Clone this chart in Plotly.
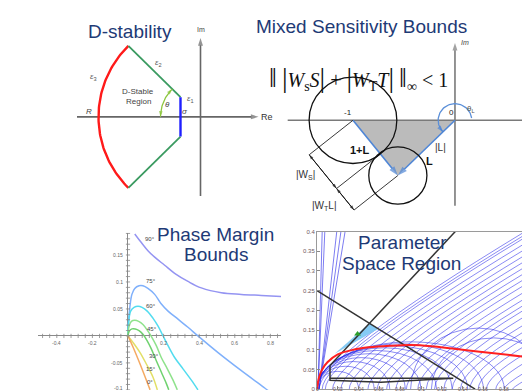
import numpy as np
import plotly.graph_objects as go

W, H = 530, 391
FONT = "Liberation Sans, Arial, sans-serif"
SERIF = "Liberation Serif, Times New Roman, serif"
NAVY = "#1e3a76"

# ---------------- Panel 1: D-stability region ----------------
d_sigma = 0.2          # vertical boundary  Re = -sigma
d_theta_deg = 45       # sector half angle
d_radius = 1.02        # outer radius R

# ---------------- Panel 2: mixed sensitivity ----------------
ms_L = (-0.56, -0.55)  # loop value L(jw)
ms_Ws = 0.43           # |W_S| radius around -1
ms_WtL = 0.285         # |W_T L| radius around L

# ---------------- Panel 3: phase margin bounds ----------------
pm_labels = ["90°", "75°", "60°", "45°", "30°", "15°", "0°"]
pm_label_x = [0.124, 0.129, 0.129, 0.135, 0.146, 0.129, 0.124]
pm_label_y = [0.179, 0.102, 0.055, 0.013, -0.038, -0.062, -0.086]
pm_colors = ["#9494f2", "#7fb0fb", "#52dcef", "#8fe28c", "#6fd26f", "#e2df66", "#f5aa62"]
pm90_x = [0.038, 0.075, 0.112, 0.150, 0.206, 0.262, 0.337, 0.412, 0.524, 0.637, 0.749, 0.861]
pm90_y = [0.189, 0.173, 0.158, 0.146, 0.131, 0.116, 0.101, 0.089, 0.080, 0.077, 0.075, 0.073]
pm75_x = [0.0, 0.004, 0.011, 0.022, 0.038, 0.062, 0.084, 0.112, 0.150, 0.185, 0.225, 0.281, 0.337, 0.393, 0.506, 0.635, 0.770, 0.798]
pm75_y = [0.0, 0.031, 0.055, 0.077, 0.088, 0.093, 0.093, 0.088, 0.077, 0.060, 0.046, 0.031, 0.016, 0.0, -0.031, -0.064, -0.097, -0.104]
pm60_x = [0.0, 0.004, 0.015, 0.034, 0.056, 0.079, 0.108, 0.140, 0.169, 0.197, 0.225, 0.262, 0.309, 0.356, 0.393]
pm60_y = [0.0, 0.027, 0.046, 0.053, 0.055, 0.053, 0.046, 0.033, 0.018, 0.0, -0.018, -0.040, -0.061, -0.082, -0.100]
pm45_x = [0.0, 0.006, 0.019, 0.038, 0.060, 0.084, 0.112, 0.135, 0.159, 0.187, 0.221, 0.253, 0.277]
pm45_y = [0.0, 0.018, 0.027, 0.029, 0.027, 0.021, 0.009, -0.003, -0.018, -0.040, -0.061, -0.082, -0.100]
pm30_x = [0.0, 0.007, 0.022, 0.041, 0.062, 0.084, 0.108, 0.131, 0.159, 0.187, 0.215, 0.229]
pm30_y = [0.0, 0.009, 0.013, 0.013, 0.010, 0.003, -0.009, -0.024, -0.046, -0.067, -0.088, -0.100]
pm15_x = [0.0, 0.028, 0.066, 0.103, 0.140, 0.165]
pm15_y = [0.0, -0.012, -0.030, -0.052, -0.076, -0.100]
pm0_x = [0.0, 0.03, 0.07, 0.124]
pm0_y = [0.0, -0.022, -0.054, -0.100]
pm_xtick_vals = [-0.4, -0.2, 0.2, 0.4, 0.6, 0.8]
pm_xtick_text = ["-0.4", "-0.2", "0.2", "0.4", "0.6", "0.8"]
pm_ytick_vals = [0.15, 0.1, 0.05, -0.05, -0.1]
pm_ytick_text = ["0.15", "0.1", "0.05", "-0.05", "-0.1"]

# ---------------- Panel 4: parameter space ----------------
ps_xtick_vals = [0, 0.02, 0.04, 0.06, 0.08, 0.1, 0.12, 0.14, 0.16, 0.18, 0.2]
ps_xtick_text = ["0", "0.02", "0.04", "0.06", "0.08", "0.1", "0.12", "0.14", "0.16", "0.18", "0.2"]
ps_ytick_vals = [0, 0.05, 0.1, 0.15, 0.2, 0.25, 0.3, 0.35, 0.4]
ps_ytick_text = ["0", "0.05", "0.1", "0.15", "0.2", "0.25", "0.3", "0.35", "0.4"]
# fan of boundary curves: start on the k_p axis, exit at the right edge (x = 0.2)
fan_start = [0.002, 0.005, 0.008, 0.015, 0.023, 0.031, 0.040, 0.049, 0.058,
             0.067, 0.076, 0.086, 0.097, 0.105, 0.113, 0.122, 0.130, 0.138, 0.147, 0.155,
             0.163, 0.172, 0.180, 0.188]
fan_exit = [0.40, 0.392, 0.385, 0.37, 0.355, 0.34, 0.325, 0.31, 0.295,
            0.28, 0.265, 0.2475, 0.23, 0.215, 0.2025, 0.185, 0.165, 0.1475, 0.13, 0.11,
            0.09, 0.0675, 0.0425, 0.0225]
# arcs (centre, half width, height)
arc_cx = [0.02, 0.0275, 0.035, 0.0425, 0.05, 0.0575, 0.065, 0.0725, 0.08, 0.09, 0.155, 0.17]
arc_w = [0.02, 0.0275, 0.035, 0.0425, 0.05, 0.0575, 0.065, 0.0725, 0.08, 0.09, 0.065, 0.06]
arc_h = [0.045, 0.058, 0.07, 0.08, 0.09, 0.098, 0.105, 0.11, 0.115, 0.12, 0.155, 0.13]
# nearly vertical lines close to the k_i axis
steep_x0 = [0.001, 0.001, 0.002, 0.002, 0.002]
steep_x1 = [0.005, 0.0075, 0.019, 0.023, 0.027]
# black constraint lines
blk1_x = [0.0, 0.152]; blk1_y = [0.25, 0.0]
blk2_x = [0.0125, 0.133]; blk2_y = [0.06, 0.4]
blk3_x = [0.0125, 0.0125, 0.0615, 0.131, 0.0125]
blk3_y = [0.06, 0.0225, 0.0175, 0.0275, 0.0275]
# red curve
red_x = [0.0, 0.002, 0.005, 0.01, 0.02, 0.035, 0.05, 0.07, 0.09, 0.11, 0.13, 0.15, 0.17, 0.2]
red_y = [0.0, 0.03, 0.05, 0.068, 0.088, 0.1, 0.106, 0.11, 0.112, 0.109, 0.103, 0.097, 0.091, 0.082]
# feasible region and chosen point
cyan_x = [0.017, 0.0504, 0.0587]
cyan_y = [0.09, 0.167, 0.1525]
pt_x = [0.039]; pt_y = [0.14]


def dx(a, b):
    return [a / W, b / W]


def dy(top, bottom):
    return [1 - bottom / H, 1 - top / H]


fig = go.Figure()
ann = []
shapes = []


def arrow(x, y, ax, ay, ref, color, width=1.5, size=7):
    fig.add_trace(go.Scatter(x=[ax, x], y=[ay, y], mode="lines+markers",
                             line=dict(color=color, width=width),
                             marker=dict(symbol="arrow", size=[0, size], angleref="previous",
                                         color=color, line=dict(width=0)),
                             xaxis="x" + ref, yaxis="y" + ref, hoverinfo="skip"))


def label(x, y, text, ref, size=8, color="#333", family=FONT, **kw):
    ann.append(dict(x=x, y=y, xref="x" + ref, yref="y" + ref, text=text, showarrow=False,
                    font=dict(size=size, color=color, family=family), **kw))


def title(xp, yp, text, size=19):
    ann.append(dict(x=xp / W, y=1 - yp / H, xref="paper", yref="paper", text=text,
                    showarrow=False, xanchor="center", yanchor="middle",
                    font=dict(size=size, color=NAVY, family=FONT)))


# ===== Panel 1 =====
t = np.radians(d_theta_deg)
arrow(0.58, 0.0, -1.235, 0.0, "", "#666666", 1.6, 8)
arrow(0.0, 0.8, 0.0, -0.805, "", "#666666", 1.6, 8)
th = np.radians(np.linspace(180 - d_theta_deg, 180 + d_theta_deg, 80))
fig.add_trace(go.Scatter(x=d_radius * np.cos(th), y=d_radius * np.sin(th), mode="lines",
                         line=dict(color="#ff1a1a", width=2.4), xaxis="x", yaxis="y"))
fx, fy = -d_radius * np.cos(t), d_radius * np.sin(t)
cy = d_sigma * np.tan(t)
fig.add_trace(go.Scatter(x=[-d_sigma, fx, None, -d_sigma, fx], y=[cy, fy, None, -cy, -fy],
                         mode="lines", line=dict(color="#3a9a60", width=1.8), xaxis="x", yaxis="y"))
fig.add_trace(go.Scatter(x=[-d_sigma, -d_sigma], y=[cy, -cy], mode="lines",
                         line=dict(color="#1f1fff", width=2.4), xaxis="x", yaxis="y"))
ga = np.radians(np.linspace(176, 180 - d_theta_deg + 4, 30))
fig.add_trace(go.Scatter(x=0.4 * np.cos(ga), y=0.4 * np.sin(ga), mode="lines",
                         line=dict(color="#8dc63f", width=1.3), xaxis="x", yaxis="y"))
arrow(-0.4, 0.0, 0.4 * np.cos(np.radians(174)), 0.4 * np.sin(np.radians(174)), "", "#8dc63f", 1.2, 6)
arrow(0.4 * np.cos(np.radians(180 - d_theta_deg)), 0.4 * np.sin(np.radians(180 - d_theta_deg)),
      0.4 * np.cos(np.radians(180 - d_theta_deg + 6)), 0.4 * np.sin(np.radians(180 - d_theta_deg + 6)),
      "", "#8dc63f", 1.2, 6)
label(-0.625, 0.255, "D-Stable", "", 8, "#444")
label(-0.625, 0.155, "Region", "", 8, "#444")
label(-0.425, 0.545, "<i>ε</i><sub>2</sub>", "", 8, "#555")
label(-1.075, 0.405, "<i>ε</i><sub>3</sub>", "", 8, "#555")
label(-0.1, 0.185, "<i>ε</i><sub>1</sub>", "", 8, "#555")
label(-0.335, 0.125, "<i>θ</i>", "", 8, "#444")
label(-0.155, 0.055, "<i>σ</i>", "", 8, "#444")
label(-1.115, 0.055, "<i>R</i>", "", 8, "#444")
label(0.0, 0.885, "Im", "", 7, "#444")
label(0.665, -0.005, "Re", "", 9, "#333")

# ===== Panel 2 =====
Lx, Ly = ms_L
fig.add_trace(go.Scatter(x=[-1, 0, Lx, -1], y=[0, 0, Ly, 0], fill="toself", fillcolor="#bbbbbb",
                         mode="lines", line=dict(width=0, color="#bbbbbb"), xaxis="x2", yaxis="y2"))
arrow(0.79, 0.0, -1.64, 0.0, "2", "#7a7a7a", 1.6, 8)
arrow(0.0, 0.77, 0.0, -0.85, "2", "#7a7a7a", 1.6, 8)
arrow(Lx, Ly, -1, 0, "2", "#4f86d6", 1.6, 10)
arrow(Lx, Ly, 0, 0, "2", "#4f86d6", 1.6, 10)
shapes.append(dict(type="circle", xref="x2", yref="y2", x0=-1 - ms_Ws, x1=-1 + ms_Ws,
                   y0=-ms_Ws, y1=ms_Ws, line=dict(color="#111", width=1.3)))
shapes.append(dict(type="circle", xref="x2", yref="y2", x0=Lx - ms_WtL, x1=Lx + ms_WtL,
                   y0=Ly - ms_WtL, y1=Ly + ms_WtL, line=dict(color="#111", width=1.3)))
d = np.array([Lx + 1, Ly]); u = d / np.linalg.norm(d)
n = np.array([u[1], -u[0]])
if n[0] > 0:
    n = -n
base = [np.array([-1.0, 0.0]), np.array([-1.0, 0.0]) + u * ms_Ws, np.array([Lx, Ly])]
ends = [b + n * 0.55 for b in base]
ex, ey = [], []
for b, e in zip(base, ends):
    ex += [b[0], e[0], None]; ey += [b[1], e[1], None]
fig.add_trace(go.Scatter(x=ex, y=ey, mode="lines", line=dict(color="#222", width=0.9),
                         xaxis="x2", yaxis="y2"))
for a_, b_ in [(1, 0), (0, 1), (2, 1), (1, 2)]:
    arrow(ends[b_][0], ends[b_][1], ends[a_][0], ends[a_][1], "2", "#111", 0.9, 5)
ba = np.radians(np.linspace(8, 214, 60))
fig.add_trace(go.Scatter(x=0.165 * np.cos(ba), y=0.165 * np.sin(ba), mode="lines",
                         line=dict(color="#5b8fd8", width=1.3), xaxis="x2", yaxis="y2"))
arrow(0.165 * np.cos(np.radians(225)), 0.165 * np.sin(np.radians(225)),
      0.165 * np.cos(np.radians(212)), 0.165 * np.sin(np.radians(212)), "2", "#4f86d6", 1.3, 7)
label(-1.05, 0.075, "-1", "2", 8, "#222")
label(-0.035, 0.075, "0", "2", 8, "#222")
label(-0.93, -0.30, "<b>1+L</b>", "2", 11, "#111")
label(-0.14, -0.275, "|L|", "2", 10, "#333")
label(-0.245, -0.41, "<b>L</b>", "2", 11, "#111")
label(-1.461, -0.549, "|W<sub>S</sub>|", "2", 10, "#333")
label(-1.275, -0.853, "|W<sub>T</sub>L|", "2", 10, "#333")
label(0.16, 0.11, "θ<sub>L</sub>", "2", 8, "#555")
label(0.1, 0.77, "<i>Im</i>", "2", 7, "#444")
BIG = '<span style="font-size:28px">'
ann.append(dict(x=350 / W, y=1 - 50 / H, xref="paper", yref="paper", showarrow=False,
                text=(BIG + "‖</span> " + BIG + "|</span><i>W</i><sub>s</sub><i>S</i>" + BIG + "|</span> + "
                      + BIG + "|</span><i>W</i><sub>T</sub><i>T</i>" + BIG + "|</span> " + BIG + "‖</span>"
                      + "<sub>∞</sub> &lt; 1"),
                font=dict(size=20, color="#111", family=SERIF)))

# ===== Panel 3 =====
pm_x = [pm90_x, pm75_x, pm60_x, pm45_x, pm30_x, pm15_x, pm0_x]
pm_y = [pm90_y, pm75_y, pm60_y, pm45_y, pm30_y, pm15_y, pm0_y]
for xs, ys, c in zip(pm_x, pm_y, pm_colors):
    fig.add_trace(go.Scatter(x=xs, y=ys, mode="lines", line=dict(color=c, width=1.5, shape="spline"),
                             xaxis="x3", yaxis="y3"))
minor_x = np.round(np.arange(-0.48, 0.85, 0.04), 3)
minor_y = np.round(np.arange(-0.1, 0.19, 0.01), 3)
fig.add_trace(go.Scatter(x=minor_x, y=np.zeros_like(minor_x), mode="markers",
                         marker=dict(symbol="line-ns", size=3, line=dict(color="#888", width=0.8)),
                         xaxis="x3", yaxis="y3"))
fig.add_trace(go.Scatter(x=np.zeros_like(minor_y), y=minor_y, mode="markers",
                         marker=dict(symbol="line-ew", size=3, line=dict(color="#888", width=0.8)),
                         xaxis="x3", yaxis="y3"))
for v, s in zip(pm_xtick_vals, pm_xtick_text):
    label(v, 0, s, "3", 5, "#666", yanchor="top", yshift=-2)
for v, s in zip(pm_ytick_vals, pm_ytick_text):
    label(0, v, s, "3", 5, "#666", xanchor="right", xshift=-3, yshift=(2 if v < -0.09 else 0))
for lx, ly, tx in zip(pm_label_x, pm_label_y, pm_labels):
    label(lx, ly, tx, "3", 6, "#444")

# ===== Panel 4 =====
BLUE = "rgba(40,40,232,0.68)"
for a, e in zip(fan_start, fan_exit):
    yc = max(e - 1.6 * (0.2 - a), 0.15 * e)
    shapes.append(dict(type="path", xref="x4", yref="y4", layer="below",
                       path=f"M {a},0 Q {a},{yc} 0.2,{e}", line=dict(color=BLUE, width=0.8)))
for c, w_, h_ in zip(arc_cx, arc_w, arc_h):
    shapes.append(dict(type="circle", xref="x4", yref="y4", layer="below",
                       x0=c - w_, x1=c + w_, y0=-h_, y1=h_, line=dict(color=BLUE, width=0.8)))
for a, b in zip(steep_x0, steep_x1):
    shapes.append(dict(type="line", xref="x4", yref="y4", layer="below",
                       x0=a, y0=0, x1=b, y1=0.4, line=dict(color=BLUE, width=0.9)))
fig.add_trace(go.Scatter(x=cyan_x + [cyan_x[0]], y=cyan_y + [cyan_y[0]], fill="toself",
                         fillcolor="#86cbf5", mode="lines", line=dict(width=0, color="#86cbf5"),
                         xaxis="x4", yaxis="y4"))
for bx, by in [(blk1_x, blk1_y), (blk2_x, blk2_y), (blk3_x, blk3_y)]:
    fig.add_trace(go.Scatter(x=bx, y=by, mode="lines", line=dict(color="#333", width=1.5),
                             xaxis="x4", yaxis="y4"))
fig.add_trace(go.Scatter(x=red_x, y=red_y, mode="lines", line=dict(color="#ff2020", width=2, shape="spline"),
                         xaxis="x4", yaxis="y4"))
fig.add_trace(go.Scatter(x=pt_x, y=pt_y, mode="markers",
                         marker=dict(symbol="triangle-up", size=6, color="#2ca02c"),
                         xaxis="x4", yaxis="y4"))
for v, s in zip(ps_xtick_vals, ps_xtick_text):
    ann.append(dict(x=v, y=3.5 / H, xref="x4", yref="paper", yanchor="bottom", text=s, showarrow=False,
                    borderpad=0, font=dict(size=5, color="#705860", family=FONT)))

# ===== Titles =====
title(122, 20.5, "D-stability")
title(353, 16, "Mixed Sensitivity Bounds")
title(207, 226.5, "Phase Margin")
title(207.5, 247.5, "Bounds")
title(395, 235, "Parameter")
title(394, 256.5, "Space Region")

hidden = dict(visible=False, showgrid=False, zeroline=False, tickmode="array", tickvals=[])
bare = dict(showgrid=False, showticklabels=False, showline=False, ticks="", tickmode="array", tickvals=[])
fig.update_layout(
    width=W, height=H, margin=dict(l=0, r=0, t=0, b=0),
    paper_bgcolor="white", plot_bgcolor="white", showlegend=False,
    xaxis=dict(domain=dx(60, 265), range=[-1.325, 0.725], anchor="y", **hidden),
    yaxis=dict(domain=dy(10, 195), range=[-0.875, 0.975], anchor="x", **hidden),
    xaxis2=dict(domain=dx(265, 530), range=[-1.784, 0.814], anchor="y2", **hidden),
    yaxis2=dict(domain=dy(25, 215), range=[-1.0196, 0.843], anchor="x2", **hidden),
    xaxis3=dict(domain=dx(30, 273), range=[-0.5056, 0.8596], anchor="y3",
                zeroline=True, zerolinecolor="#8a8a8a", zerolinewidth=1, **bare),
    yaxis3=dict(domain=dy(225, 385), range=[-0.1004, 0.1916], anchor="x3",
                zeroline=True, zerolinecolor="#8a8a8a", zerolinewidth=1, **bare),
    xaxis4=dict(domain=dx(309, 517), range=[0, 0.2], anchor="y4", showgrid=False, zeroline=False,
                showline=True, mirror=True, linecolor="#9a9a9a", linewidth=1,
                tickmode="array", tickvals=ps_xtick_vals, ticktext=[""] * len(ps_xtick_vals),
                showticklabels=False, ticks="inside", ticklen=3, tickcolor="#888"),
    yaxis4=dict(domain=dy(224, 384), range=[0, 0.4], anchor="x4", showgrid=False, zeroline=False,
                showline=True, mirror=True, linecolor="#9a9a9a", linewidth=1,
                tickvals=ps_ytick_vals, ticktext=ps_ytick_text, ticks="inside", ticklen=3,
                tickcolor="#888", tickfont=dict(size=6, color="#705860", family=FONT)),
    annotations=ann, shapes=shapes,
)

fig.write_html("out.html")
